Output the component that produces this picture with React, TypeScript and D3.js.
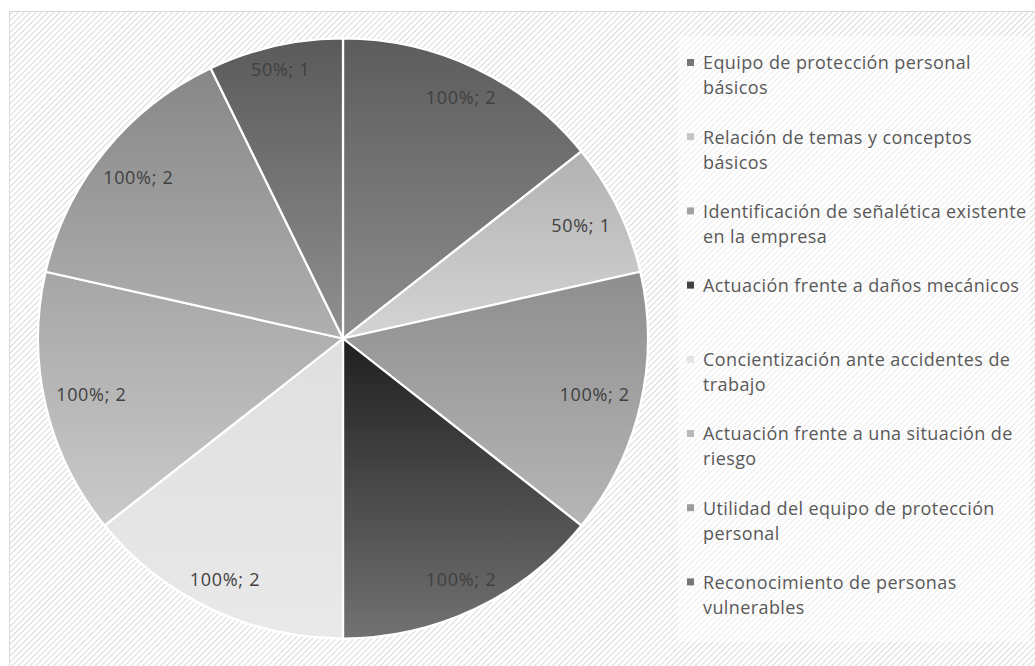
import * as d3 from "d3";

const categories = [
  "Equipo de protección personal básicos",
  "Relación de temas y conceptos básicos",
  "Identificación de señalética existente en la empresa",
  "Actuación frente a daños mecánicos",
  "Concientización ante accidentes de trabajo",
  "Actuación frente a una situación de riesgo",
  "Utilidad del equipo de protección personal",
  "Reconocimiento de personas vulnerables",
];
const values = [2, 1, 2, 2, 2, 2, 2, 1];
const percents = [100, 50, 100, 100, 100, 100, 100, 50];

// slice gradients (top -> bottom), Excel style
const gradTop = ["#5c5c5c", "#b2b2b2", "#8e8e8e", "#1f1f1f", "#dfdfdf", "#a6a6a6", "#878787", "#5a5a5a"];
const gradBottom = ["#8e8e8e", "#d4d4d4", "#b6b6b6", "#727272", "#e9e9e9", "#cacaca", "#b0b0b0", "#909090"];
const markerColors = ["#767676", "#c4c4c4", "#a2a2a2", "#404040", "#e4e4e4", "#b8b8b8", "#9c9c9c", "#767676"];

const W = 1035;
const H = 666;
const cx = 343;
const cy = 338.5;
const R = 300;
const RX = 305; // pie is a touch wider than tall in the original
const FONT = "'Open Sans', sans-serif";

let ctx: CanvasRenderingContext2D | null = null;
function textWidth(s: string, size: number, ls = 0) {
  if (!ctx) ctx = document.createElement("canvas").getContext("2d");
  if (!ctx) return s.length * (size * 0.55 + ls);
  ctx.font = `${size}px 'Open Sans'`;
  return ctx.measureText(s).width + s.length * ls;
}

function wrap(s: string, size: number, ls: number, maxW: number) {
  const words = s.split(" ");
  const lines: string[] = [];
  let cur = "";
  words.forEach((w) => {
    const t = cur ? cur + " " + w : w;
    if (cur && textWidth(t, size, ls) > maxW) {
      lines.push(cur);
      cur = w;
    } else cur = t;
  });
  if (cur) lines.push(cur);
  return lines;
}

export default function App() {
  const pie = d3
    .pie<number>()
    .sort(null)
    .value((d) => d);
  const arcs = pie(values);
  const arc = d3.arc<d3.PieArcDatum<number>>().innerRadius(0).outerRadius(R);
  const sx = RX / R;

  const labelSize = 18;
  const labelLs = 0.7;
  const legendSize = 18;
  const legendLs = 0.4;
  const legendX = 688;
  const legendY0 = 63;
  const legendStep = 74.2;
  const lineH = 25;

  return (
    <svg
      width={W}
      height={H}
      style={{ position: "absolute", left: 0, top: 0, display: "block" }}
    >
      <defs>
        <pattern id="hatch" width="4.2" height="4.2" patternUnits="userSpaceOnUse" patternTransform="rotate(-45)">
          <rect width="4.2" height="4.2" fill="#ffffff" />
          <line x1="0" y1="0" x2="4.2" y2="0" stroke="#d9d9d9" strokeWidth="2" />
        </pattern>
        {arcs.map((a, i) => (
          <linearGradient key={i} id={`g${i}`} x1="0" y1="0" x2="0" y2="1">
            <stop offset="0" stopColor={gradTop[i]} />
            <stop offset="1" stopColor={gradBottom[i]} />
          </linearGradient>
        ))}
      </defs>
      <rect x={0} y={0} width={W} height={H} fill="#ffffff" />
      <rect x={9.5} y={11.5} width={W - 9} height={H - 11} fill="url(#hatch)" stroke="#d9d9d9" strokeWidth={1} />

      <g transform={`translate(${cx},${cy})`}>
        <g transform={`scale(${sx},1)`}>
          <circle r={R + 1} fill="#ffffff" />
          {arcs.map((a, i) => (
            <path key={i} d={arc(a) || ""} fill={`url(#g${i})`} stroke="#ffffff" strokeWidth={2.2} strokeLinejoin="round" />
          ))}
        </g>
        {arcs.map((a, i) => {
          const txt = `${percents[i]}%; ${a.data}`;
          const mid = (a.startAngle + a.endAngle) / 2;
          const hw = textWidth(txt, labelSize, labelLs) / 2;
          const hh = 8;
          const r = R - 10 - (hw * Math.abs(Math.sin(mid)) + hh * Math.abs(Math.cos(mid)));
          return (
            <text
              key={i}
              x={r * sx * Math.sin(mid)}
              y={-r * Math.cos(mid)}
              dy="0.35em"
              textAnchor="middle"
              fontFamily={FONT}
              fontSize={labelSize}
              letterSpacing={labelLs}
              fill="#404040"
            >
              {txt}
            </text>
          );
        })}
      </g>

      <rect x={678} y={36} width={352} height={606} fill="#ffffff" opacity={0.5} />
      {categories.map((c, i) => {
        const y = legendY0 + i * legendStep;
        const lines = wrap(c, legendSize, legendLs, 326);
        return (
          <g key={i}>
            <rect x={legendX - 1} y={y - 4} width={7} height={7} fill={markerColors[i]} />
            {lines.map((l, j) => (
              <text
                key={j}
                x={legendX + 15}
                y={y + j * lineH}
                dy="0.35em"
                fontFamily={FONT}
                fontSize={legendSize}
                letterSpacing={legendLs}
                fill="#595959"
              >
                {l}
              </text>
            ))}
          </g>
        );
      })}
    </svg>
  );
}
